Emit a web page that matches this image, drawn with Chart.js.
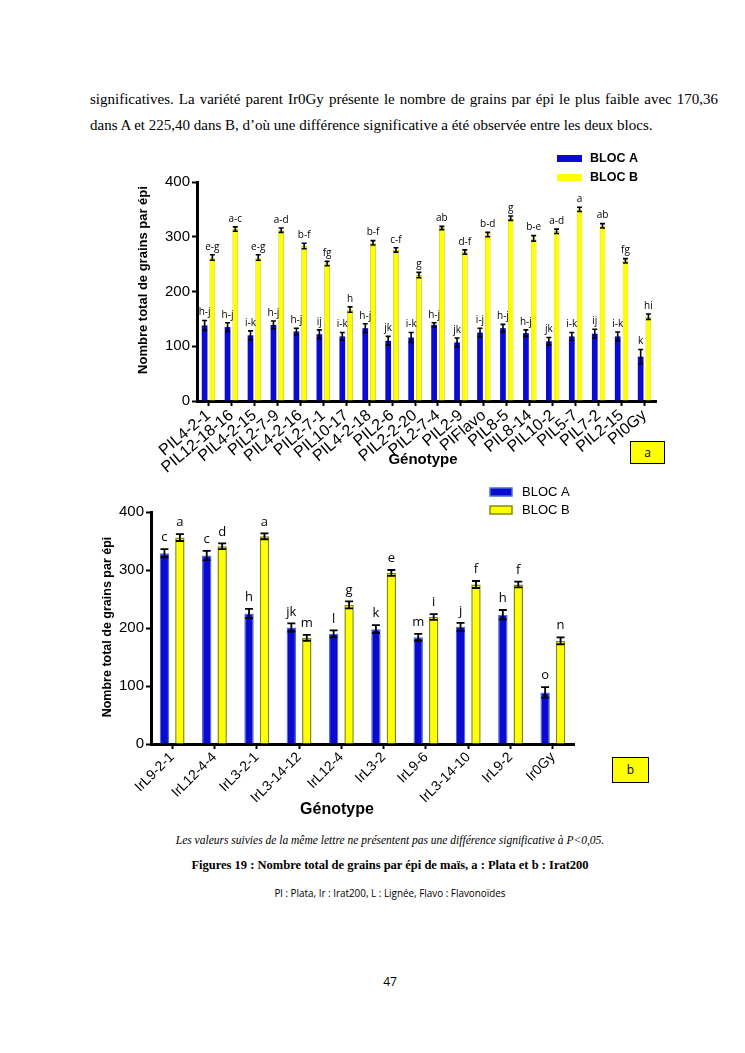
<!DOCTYPE html>
<html>
<head>
<meta charset="utf-8">
<script src="https://cdn.jsdelivr.net/npm/chart.js@4.4.1/dist/chart.umd.min.js"></script>
<style>
  body { margin: 0; background: #fff; }
  #page { position: relative; width: 745px; height: 1053px; overflow: hidden; background: #fff; }
  .t { position: absolute; white-space: nowrap; color: #000; }
  .serif { font-family: "Liberation Serif", "Times New Roman", serif; }
  .ctr { left: 0; width: 780px; text-align: center; }
  canvas { position: absolute; }
  .tag { position: absolute; background: #ffff00; border: 1px solid #000; box-sizing: border-box;
         font-family: "Open Sans", sans-serif; font-size: 12px; text-align: center; }
</style>
</head>
<body>
<div id="page">
  <div id="l1" class="t serif" style="left:90px; top:90px; font-size:15px; line-height:18px;">significatives. La variété parent Ir0Gy présente le nombre de grains par épi le plus faible avec 170,36</div>
  <div class="t serif" style="left:90px; top:116px; font-size:15px; line-height:18px;">dans A et 225,40 dans B, d’où une différence significative a été observée entre les deux blocs.</div>

  <canvas id="chartA" width="600" height="335" style="left:100px; top:140px;"></canvas>
  <div class="tag" style="left:630px; top:441px; width:35px; height:23px; line-height:21px;">a</div>

  <canvas id="chartB" width="620" height="355" style="left:60px; top:470px;"></canvas>
  <div class="tag" style="left:612px; top:757px; width:37px; height:26px; line-height:24px;">b</div>

  <div class="t serif ctr" style="top:833px; font-size:11.5px; line-height:14px; font-style:italic;">Les valeurs suivies de la même lettre ne présentent pas une différence significative à P&lt;0,05.</div>
  <div class="t serif ctr" style="top:857px; font-size:12.5px; line-height:16px; font-weight:bold;">Figures 19 : Nombre total de grains par épi de maïs, a : Plata et b : Irat200</div>
  <div class="t ctr" style="top:886px; font-family:'Open Sans',sans-serif; font-size:9.9px; line-height:14px;">Pl : Plata, Ir : Irat200, L : Lignée, Flavo : Flavonoïdes</div>
  <div class="t ctr" style="top:974px; font-family:'Open Sans',sans-serif; font-size:12px; line-height:16px;">47</div>
</div>

<script>
// ---- figure a : Plata ----
const genotypesA = ['PIL4-2-1', 'PIL12-18-16', 'PIL4-2-15', 'PIL2-7-9', 'PIL4-2-16', 'PIL2-7-1', 'PIL10-17',
  'PIL4-2-18', 'PIL2-6', 'PIL2-2-20', 'PIL2-7-4', 'PIL2-9', 'PIFlavo', 'PIL8-5', 'PIL8-14', 'PIL10-2',
  'PIL5-7', 'PIL7-2', 'PIL2-15', 'PI0Gy'];
const blocA_a = [138, 135, 120, 139, 127, 122, 118, 133, 110, 116, 139, 107, 125, 133, 124, 109, 118, 123, 118, 81];
const errA_a  = [9, 8, 8, 7, 6, 8, 7, 8, 8, 9, 4, 8, 8, 7, 6, 7, 7, 8, 8, 13];
const blocB_a = [262, 314, 262, 312, 283, 251, 167, 289, 276, 230, 316, 272, 304, 334, 297, 310, 350, 320, 256, 154];
const errB_a  = [5, 4, 5, 4, 5, 4, 5, 4, 4, 5, 3, 4, 4, 4, 5, 4, 4, 4, 4, 5];
const lettersA_a = ['h-j', 'h-j', 'i-k', 'h-j', 'h-j', 'ij', 'i-k', 'h-j', 'jk', 'i-k', 'h-j', 'jk', 'i-j',
  'h-j', 'h-j', 'jk', 'i-k', 'ij', 'i-k', 'k'];
const lettersB_a = ['e-g', 'a-c', 'e-g', 'a-d', 'b-f', 'fg', 'h', 'b-f', 'c-f', 'g', 'ab', 'd-f', 'b-d',
  'g', 'b-e', 'a-d', 'a', 'ab', 'fg', 'hi'];

// ---- figure b : Irat200 ----
const genotypesB = ['IrL9-2-1', 'IrL12-4-4', 'IrL3-2-1', 'IrL3-14-12', 'IrL12-4', 'IrL3-2', 'IrL9-6',
  'IrL3-14-10', 'IrL9-2', 'Ir0Gy'];
const blocA_b = [329, 325, 225, 201, 190, 198, 184, 202, 223, 89];
const errA_b  = [7, 8, 8, 7, 6, 7, 6, 7, 8, 9];
const blocB_b = [356, 341, 358, 183, 240, 295, 219, 275, 275, 178];
const errB_b  = [6, 5, 5, 5, 6, 5, 5, 6, 5, 6];
const lettersA_b = ['c', 'c', 'h', 'jk', 'l', 'k', 'm', 'j', 'h', 'o'];
const lettersB_b = ['a', 'd', 'a', 'm', 'g', 'e', 'i', 'f', 'f', 'n'];

const yTicks = [0, 100, 200, 300, 400];
const seriesNames = ['BLOC A', 'BLOC B'];
const axisTitleY = 'Nombre total de grains par épi';
const axisTitleX = 'Génotype';

// justify first paragraph line to the text block width
(function () {
  const el = document.getElementById('l1');
  const w = el.getBoundingClientRect().width;
  const n = (el.textContent.match(/ /g) || []).length;
  el.style.wordSpacing = ((628 - w) / n) + 'px';
})();

const SANS = '"Liberation Sans", Arial, sans-serif';

// error bars + significance letters
const errLetters = {
  id: 'errLetters',
  afterDatasetsDraw(chart, args, opts) {
    const ctx = chart.ctx, y = chart.scales.y;
    ctx.save();
    chart.data.datasets.forEach((ds, i) => {
      chart.getDatasetMeta(i).data.forEach((bar, j) => {
        const v = ds.data[j], e = opts.errors[i][j];
        const yt = y.getPixelForValue(v + e), yb = y.getPixelForValue(v - e);
        ctx.strokeStyle = '#000';
        ctx.lineWidth = opts.lineWidth;
        ctx.beginPath();
        ctx.moveTo(bar.x, yt); ctx.lineTo(bar.x, yb);
        ctx.moveTo(bar.x - opts.cap, yt); ctx.lineTo(bar.x + opts.cap, yt);
        ctx.moveTo(bar.x - opts.cap, yb); ctx.lineTo(bar.x + opts.cap, yb);
        ctx.stroke();
        ctx.fillStyle = '#000';
        ctx.font = opts.font;
        ctx.textAlign = 'center';
        ctx.textBaseline = 'bottom';
        ctx.fillText(opts.letters[i][j], bar.x, yt - opts.gap);
      });
    });
    ctx.restore();
  }
};

// legend and axis titles
const decor = {
  id: 'decor',
  afterDraw(chart, args, o) {
    const ctx = chart.ctx;
    ctx.save();
    chart.data.datasets.forEach((ds, i) => {
      const sy = o.legend.y + i * o.legend.row;
      ctx.fillStyle = ds.backgroundColor;
      ctx.fillRect(o.legend.x, sy, o.legend.w, o.legend.h);
      if (o.legend.stroke) {
        ctx.strokeStyle = ds.borderColor;
        ctx.lineWidth = 1.5;
        ctx.strokeRect(o.legend.x, sy, o.legend.w, o.legend.h);
      }
      ctx.fillStyle = '#000';
      ctx.font = o.legend.font;
      ctx.textAlign = 'left';
      ctx.textBaseline = 'middle';
      ctx.fillText(ds.label, o.legend.x + o.legend.w + o.legend.gap, sy + o.legend.h / 2 + 0.5);
    });
    ctx.fillStyle = '#000';
    ctx.textAlign = 'center';
    ctx.textBaseline = 'middle';
    ctx.font = o.yTitle.font;
    ctx.translate(o.yTitle.x, o.yTitle.y);
    ctx.rotate(-Math.PI / 2);
    ctx.fillText(axisTitleY, 0, 0);
    ctx.setTransform(1, 0, 0, 1, 0, 0);
    ctx.font = o.xTitle.font;
    ctx.fillText(axisTitleX, o.xTitle.x, o.xTitle.y);
    ctx.restore();
  }
};

function makeChart(id, labels, a, ea, b, eb, la, lb, s) {
  return new Chart(document.getElementById(id), {
    type: 'bar',
    data: {
      labels: labels,
      datasets: [
        { label: seriesNames[0], data: a, backgroundColor: '#0a0ad0', borderColor: s.blueBorder,
          borderWidth: s.blueBorderW, categoryPercentage: s.catPct, barPercentage: s.barPct },
        { label: seriesNames[1], data: b, backgroundColor: '#ffff00', borderColor: s.yellowBorder,
          borderWidth: s.yellowBorderW, categoryPercentage: s.catPct, barPercentage: s.barPct }
      ]
    },
    options: {
      responsive: false,
      animation: false,
      devicePixelRatio: 1,
      layout: { padding: s.padding },
      plugins: {
        legend: { display: false },
        tooltip: { enabled: false },
        errLetters: { errors: [ea, eb], letters: [la, lb], lineWidth: s.errW, cap: s.cap, gap: s.gap, font: s.letterFont },
        decor: s.decor
      },
      scales: {
        x: {
          offset: true,
          grid: { drawOnChartArea: false, offset: false, tickLength: 5, tickWidth: 2, tickColor: '#000' },
          border: { color: '#000', width: 3 },
          ticks: { color: '#000', font: { family: SANS, size: s.xTickSize }, autoSkip: false,
                   maxRotation: s.rot, minRotation: s.rot, padding: 0 },
          afterFit: (sc) => { sc.height = s.xHeight; }
        },
        y: {
          min: 0, max: 400,
          afterBuildTicks: (sc) => { sc.ticks = yTicks.map(v => ({ value: v })); },
          grid: { drawOnChartArea: false, tickLength: 5, tickWidth: 2, tickColor: '#000' },
          border: { color: '#000', width: 3 },
          ticks: { color: '#000', font: { family: SANS, size: s.yTickSize }, padding: 2 },
          afterFit: (sc) => { sc.width = s.yWidth; }
        }
      }
    },
    plugins: [errLetters, decor]
  });
}

makeChart('chartA', genotypesA, blocA_a, errA_a, blocB_a, errB_a, lettersA_a, lettersB_a, {
  padding: { left: 0, top: 42, right: 44, bottom: 0 },
  yWidth: 97, xHeight: 74, catPct: 0.675, barPct: 0.74,
  blueBorder: '#0a0ad0', blueBorderW: 0, yellowBorder: '#c4c400', yellowBorderW: 0.8,
  xTickSize: 16, yTickSize: 15, rot: 40,
  errW: 1.6, cap: 2.5, gap: 3, letterFont: '10px "Open Sans", sans-serif',
  decor: {
    legend: { x: 457, y: 15, w: 25, h: 7, row: 19, gap: 8, stroke: false, font: 'bold 12.5px ' + SANS },
    yTitle: { x: 43, y: 140, font: 'bold 13px ' + SANS },
    xTitle: { x: 323, y: 320, font: 'bold 15px ' + SANS }
  }
});

makeChart('chartB', genotypesB, blocA_b, errA_b, blocB_b, errB_b, lettersA_b, lettersB_b, {
  padding: { left: 0, top: 42, right: 106, bottom: 0 },
  yWidth: 91, xHeight: 81, catPct: 0.73, barPct: 0.61,
  blueBorder: '#4a6fd0', blueBorderW: 1.2, yellowBorder: '#7f8f00', yellowBorderW: 1.5,
  xTickSize: 14, yTickSize: 15, rot: 45,
  errW: 1.8, cap: 4, gap: 5, letterFont: '13px "Open Sans", sans-serif',
  decor: {
    legend: { x: 430, y: 18, w: 22, h: 8, row: 18, gap: 10, stroke: true, font: '13px ' + SANS },
    yTitle: { x: 48, y: 157, font: 'bold 12.5px ' + SANS },
    xTitle: { x: 277, y: 340, font: 'bold 16px ' + SANS }
  }
});
</script>
</body>
</html>
